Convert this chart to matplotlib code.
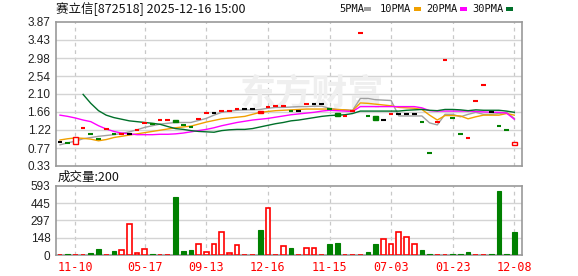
import matplotlib.pyplot as plt
from matplotlib.patches import Rectangle

plt.rcParams['font.family'] = ['Noto Sans CJK SC', 'DejaVu Sans']

title = "赛立信[872518] 2025-12-16 15:00"

# candle data (open, close) and how each one is drawn
# r/g/k = flat dash, R = red hollow body, G = green filled body, F = red filled body
opens = [0.91, 0.90, 0.86, 1.26, 1.11, 0.99, 1.23, 1.12, 1.11, 1.11,
         1.21, 1.39, 1.36, 1.46, 1.46, 1.46, 1.33, 1.30, 1.48, 1.625,
         1.625, 1.675, 1.675, 1.725, 1.725, 1.725, 1.68, 1.78, 1.805, 1.805,
         1.675, 1.67, 1.86, 1.86, 1.86, 1.74, 1.63, 1.56, 1.67, 3.59,
         1.55, 1.56, 1.45, 1.60, 1.60, 1.60, 1.60, 1.40, 0.64, 1.40,
         2.93, 1.50, 1.115, 1.01, 1.93, 2.31, 1.66, 1.31, 1.21, 0.84]
closes = [0.91, 0.90, 1.035, 1.26, 1.11, 0.99, 1.23, 1.12, 1.11, 1.11,
          1.21, 1.39, 1.36, 1.46, 1.46, 1.42, 1.33, 1.30, 1.48, 1.625,
          1.625, 1.675, 1.675, 1.725, 1.725, 1.725, 1.63, 1.78, 1.805, 1.805,
          1.675, 1.67, 1.86, 1.86, 1.86, 1.74, 1.56, 1.56, 1.67, 3.59,
          1.55, 1.46, 1.45, 1.60, 1.60, 1.60, 1.60, 1.40, 0.64, 1.40,
          2.93, 1.50, 1.115, 1.01, 1.93, 2.31, 1.66, 1.31, 1.21, 0.91]
styles = list("kgRrggrgrk" "rrgrrGggrr" "krrrkkFrrr" "gkrkkgGrrr" "gGkrkkkggr" "rggrrrkggR")

ma5 = [0.85, 0.90, 0.94, 1.00, 1.03, 1.06, 1.08, 1.10, 1.13, 1.17,
       1.22, 1.28, 1.32, 1.36, 1.38, 1.40, 1.40, 1.40, 1.45, 1.50,
       1.58, 1.65, 1.68, 1.70, 1.71, 1.71, 1.72, 1.75, 1.77, 1.77,
       1.78, 1.79, 1.79, 1.80, 1.80, 1.75, 1.72, 1.71, 1.70, 1.99,
       1.99, 1.96, 1.95, 1.94, 1.56, 1.56, 1.56, 1.56, 1.39, 1.34,
       1.60, 1.60, 1.54, 1.60, 1.65, 1.60, 1.60, 1.62, 1.65, 1.50]
ma10 = [0.97, 1.00, 1.02, 1.01, 0.99, 0.95, 0.98, 1.03, 1.06, 1.09,
        1.12, 1.15, 1.18, 1.21, 1.24, 1.27, 1.29, 1.31, 1.36, 1.41,
        1.45, 1.49, 1.51, 1.53, 1.55, 1.60, 1.65, 1.67, 1.69, 1.70,
        1.71, 1.72, 1.73, 1.73, 1.73, 1.73, 1.72, 1.71, 1.69, 1.88,
        1.87, 1.85, 1.83, 1.81, 1.77, 1.76, 1.75, 1.72, 1.58, 1.46,
        1.57, 1.57, 1.56, 1.49, 1.54, 1.58, 1.58, 1.58, 1.62, 1.58]
ma20 = [1.58, 1.55, 1.51, 1.46, 1.42, 1.32, 1.24, 1.18, 1.14, 1.12,
        1.10, 1.10, 1.10, 1.11, 1.11, 1.12, 1.14, 1.17, 1.20, 1.23,
        1.27, 1.32, 1.36, 1.40, 1.43, 1.46, 1.48, 1.50, 1.53, 1.56,
        1.59, 1.61, 1.63, 1.65, 1.68, 1.70, 1.69, 1.68, 1.67, 1.79,
        1.79, 1.79, 1.79, 1.79, 1.79, 1.79, 1.79, 1.76, 1.69, 1.68,
        1.68, 1.68, 1.68, 1.68, 1.67, 1.66, 1.65, 1.65, 1.63, 1.48]
ma30 = [None, None, None, 2.09, 1.87, 1.69, 1.58, 1.52, 1.48, 1.44,
        1.42, 1.40, 1.38, 1.355, 1.30, 1.25, 1.23, 1.20, 1.18, 1.17,
        1.16, 1.20, 1.22, 1.23, 1.23, 1.25, 1.29, 1.33, 1.37, 1.40,
        1.44, 1.46, 1.49, 1.52, 1.55, 1.57, 1.58, 1.59, 1.62, 1.68,
        1.68, 1.68, 1.68, 1.68, 1.68, 1.70, 1.71, 1.72, 1.70, 1.69,
        1.72, 1.72, 1.71, 1.69, 1.71, 1.70, 1.70, 1.70, 1.68, 1.65]

volume = [3, 5, 3, 3, 17, 52, 3, 34, 40, 264,
          14, 49, 8, 3, 3, 498, 34, 43, 92, 23,
          92, 195, 14, 83, 3, 3, 215, 401, 3, 80,
          57, 3, 57, 57, 3, 92, 100, 3, 3, 3,
          26, 92, 135, 92, 195, 152, 92, 43, 8, 3,
          3, 8, 8, 26, 3, 3, 8, 550, 8, 198]
vol_colors = list("rgrrggrgrr" "rrgrrgggrr" "rrrrrrgrrr" "grrrrggrrr" "ggrrrrrggr" "rgggrrgggg")

price_ticks = [0.33, 0.77, 1.22, 1.66, 2.10, 2.54, 2.98, 3.43, 3.87]
vol_ticks = [0, 148, 297, 445, 593]
date_pos = [2, 11, 19, 27, 35, 43, 51, 59]
date_labels = ['11-10', '05-17', '09-13', '12-16', '11-15', '07-03', '01-23', '12-08']

RED = '#ff0000'
GREEN = '#008000'
GRID = '#d4d4d4'
SPINE = '#999999'

fig = plt.figure(figsize=(5.78, 2.76), dpi=100)
ax = fig.add_axes([56 / 578, 110 / 276, 466 / 578, 144 / 276])
axv = fig.add_axes([56 / 578, 21 / 276, 466 / 578, 69 / 276])

x = list(range(len(closes)))
w = 0.6

for a in (ax, axv):
    a.set_xlim(-0.52, 60.0)
    for s in a.spines.values():
        s.set_color(SPINE)
        s.set_linewidth(1.2)
    for p in date_pos:
        a.axvline(p, color='#c8c8c8', lw=0.9, ls=(0, (3, 3)), zorder=0)
    a.tick_params(length=0, labelsize=8.5, colors='#222222', pad=4)
    a.set_xticks([])

# price panel
ax.set_ylim(0.33, 3.87)
ax.set_yticks(price_ticks)
ax.set_yticklabels([f"{v:.2f}" for v in price_ticks], family='Liberation Sans')
for v in price_ticks[1:-1]:
    ax.axhline(v, color=GRID, lw=1, zorder=0)

# watermark
ax.text((240 - 56) / 466, 0.50, "东方财富", transform=ax.transAxes, fontsize=26, fontweight='bold',
        color='#efefef', ha='left', va='center', zorder=0)

ax.plot(x, ma5, color='#a0a0a0', lw=1, zorder=2)
ax.plot(x, ma10, color='#f0a000', lw=1, zorder=2)
ax.plot(x, ma20, color='#ff00ff', lw=1, zorder=2)
ax.plot(x, [v if v is not None else float('nan') for v in ma30], color='#00702a', lw=1, zorder=2)

for i in x:
    o, c, st = opens[i], closes[i], styles[i]
    if st in 'rgk':
        col = {'r': RED, 'g': GREEN, 'k': '#000000'}[st]
        ax.hlines(c, i - w / 2, i + w / 2, color=col, lw=1.5, zorder=3)
    else:
        lo, hi = min(o, c), max(o, c)
        if st == 'R':
            rect = Rectangle((i - w / 2, lo), w, hi - lo, facecolor='white', edgecolor=RED, lw=1, zorder=3)
        elif st == 'G':
            rect = Rectangle((i - w / 2, lo), w, hi - lo, facecolor=GREEN, edgecolor=GREEN, lw=1, zorder=3)
        else:
            rect = Rectangle((i - w / 2, lo), w, hi - lo, facecolor=RED, edgecolor=RED, lw=1, zorder=3)
        ax.add_patch(rect)

# volume panel
axv.set_ylim(0, 593)
axv.set_yticks(vol_ticks)
axv.set_yticklabels([str(v) for v in vol_ticks], family='Liberation Sans')
for v in vol_ticks[1:-1]:
    axv.axhline(v, color=GRID, lw=1, zorder=0)
for i in x:
    if vol_colors[i] == 'g':
        axv.bar(i, volume[i], width=w, color=GREEN, edgecolor=GREEN, lw=0.8, zorder=3)
    else:
        axv.bar(i, volume[i], width=w, facecolor='white', edgecolor=RED, lw=1.2, zorder=3)

for p, lab in zip(date_pos, date_labels):
    axv.text(p, -0.09, lab, transform=axv.get_xaxis_transform(), color=RED,
             fontsize=8.5, ha='center', va='top', family='DejaVu Sans Mono')

# header texts
fig.text(56 / 578, 1 - 9 / 276, title, fontsize=9, ha='left', va='center', color='#111111')
fig.text(58 / 578, 1 - 177 / 276, "成交量:200", fontsize=9, ha='left', va='center', color='#111111')

# legend: text start, square start (pixels)
legend_items = [("5PMA", '#a0a0a0', 339, 364), ("10PMA", '#f0a000', 380, 414),
                ("20PMA", '#ff00ff', 426, 460), ("30PMA", '#00702a', 472, 506)]
for name, col, px, sq in legend_items:
    fig.text(px / 578, 1 - 9 / 276, name, fontsize=7.5, ha='left', va='center',
             family='DejaVu Sans Mono', color='#111111')
    fig.patches.append(Rectangle((sq / 578, 1 - 11 / 276), 7 / 578, 4 / 276,
                                 transform=fig.transFigure, facecolor=col, edgecolor='none'))

fig.savefig("out.png", dpi=100)
